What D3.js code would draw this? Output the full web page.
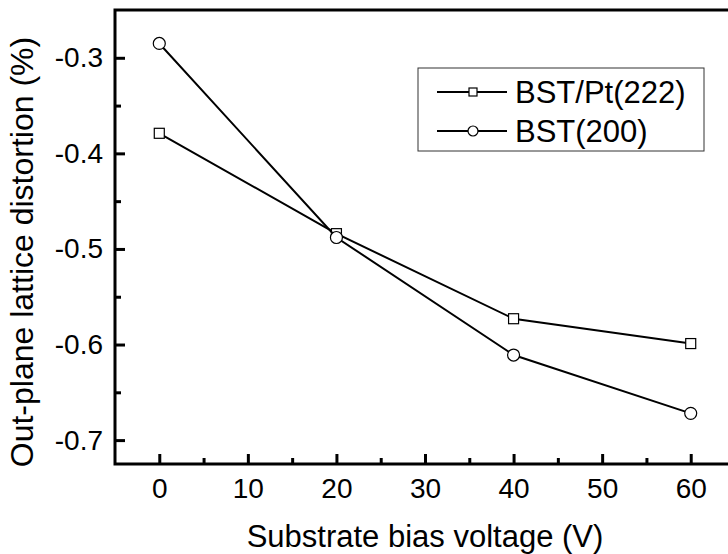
<!DOCTYPE html>
<html lang="en">
<head>
<meta charset="UTF-8">
<title>Out-plane lattice distortion</title>
<script src="https://d3js.org/d3.v7.min.js"></script>
<style>
  body { margin: 0; background: #fff; overflow: hidden; }
  text { font-family: Arial, "Liberation Sans", sans-serif; fill: #000; }
</style>
</head>
<body>
<script>
  // data
  const voltages = [0, 20, 40, 60];
  const bstPt222 = [-0.379, -0.484, -0.573, -0.599];
  const bst200 = [-0.285, -0.488, -0.611, -0.672];
  const seriesNames = ["BST/Pt(222)", "BST(200)"];
  const xTicks = [0, 10, 20, 30, 40, 50, 60];
  const yTicks = [-0.3, -0.4, -0.5, -0.6, -0.7];

  const width = 728, height = 554;
  const margin = { left: 115, top: 10, right: -7, bottom: 90 };

  const svg = d3.select("body").append("svg")
    .attr("width", width).attr("height", height);

  const x = d3.scaleLinear().domain([-5, 65])
    .range([margin.left, width - margin.right]);
  const y = d3.scaleLinear().domain([-0.725, -0.25])
    .range([height - margin.bottom, margin.top]);

  const x0 = margin.left, x1 = width - margin.right;
  const y0 = height - margin.bottom, y1 = margin.top;

  // plain hyphen instead of the unicode minus
  const yFmt = d => d3.format(".1f")(d).replace("\u2212", "-");

  // minor ticks
  svg.append("g")
    .attr("transform", `translate(0,${y0})`)
    .call(d3.axisBottom(x).tickValues(d3.range(5, 65, 10)).tickSizeInner(-6).tickSizeOuter(0).tickFormat(""))
    .call(g => g.select(".domain").remove())
    .call(g => g.selectAll("line").attr("stroke-width", 3));
  svg.append("g")
    .attr("transform", `translate(${x0},0)`)
    .call(d3.axisLeft(y).tickValues([-0.35, -0.45, -0.55, -0.65]).tickSizeInner(-6).tickSizeOuter(0).tickFormat(""))
    .call(g => g.select(".domain").remove())
    .call(g => g.selectAll("line").attr("stroke-width", 3));

  // major ticks + labels
  svg.append("g")
    .attr("transform", `translate(0,${y0})`)
    .call(d3.axisBottom(x).tickValues(xTicks).tickSizeInner(-10).tickSizeOuter(0).tickPadding(14).tickFormat(d3.format("d")))
    .call(g => g.select(".domain").remove())
    .call(g => g.selectAll("line").attr("stroke-width", 3))
    .call(g => g.selectAll("text").attr("font-size", 28).attr("fill", "#000"));
  svg.append("g")
    .attr("transform", `translate(${x0},0)`)
    .call(d3.axisLeft(y).tickValues(yTicks).tickSizeInner(-10).tickSizeOuter(0).tickPadding(12).tickFormat(yFmt))
    .call(g => g.select(".domain").remove())
    .call(g => g.selectAll("line").attr("stroke-width", 3))
    .call(g => g.selectAll("text").attr("font-size", 28).attr("fill", "#000"));

  // frame: left, bottom, top (right side is outside the picture)
  svg.append("path")
    .attr("d", `M${x1},${y1}H${x0}V${y0}H${x1}`)
    .attr("fill", "none").attr("stroke", "#000").attr("stroke-width", 3)
    .attr("stroke-linecap", "square");

  const line = d3.line().x(d => x(d[0])).y(d => y(d[1]));
  const series = [bstPt222, bst200].map(vals => voltages.map((v, i) => [v, vals[i]]));

  series.forEach((pts, k) => {
    svg.append("path").datum(pts)
      .attr("d", line).attr("fill", "none")
      .attr("stroke", "#000").attr("stroke-width", 2);
    if (k === 0) {
      svg.selectAll(null).data(pts).join("rect")
        .attr("x", d => x(d[0]) - 5).attr("y", d => y(d[1]) - 5)
        .attr("width", 10).attr("height", 10)
        .attr("fill", "#fff").attr("stroke", "#000").attr("stroke-width", 1.2);
    } else {
      svg.selectAll(null).data(pts).join("circle")
        .attr("cx", d => x(d[0])).attr("cy", d => y(d[1])).attr("r", 6)
        .attr("fill", "#fff").attr("stroke", "#000").attr("stroke-width", 1.2);
    }
  });

  // legend
  const legend = svg.append("g");
  legend.append("rect")
    .attr("x", 418).attr("y", 68).attr("width", 286).attr("height", 83)
    .attr("fill", "#fff").attr("stroke", "#333").attr("stroke-width", 1);
  seriesNames.forEach((name, k) => {
    const ly = 92 + k * 39;
    legend.append("line")
      .attr("x1", 437).attr("x2", 507).attr("y1", ly).attr("y2", ly)
      .attr("stroke", "#000").attr("stroke-width", 2);
    if (k === 0) {
      legend.append("rect").attr("x", 469).attr("y", ly - 4).attr("width", 8).attr("height", 8)
        .attr("fill", "#fff").attr("stroke", "#000").attr("stroke-width", 1.2);
    } else {
      legend.append("circle").attr("cx", 473).attr("cy", ly).attr("r", 5)
        .attr("fill", "#fff").attr("stroke", "#000").attr("stroke-width", 1.2);
    }
    legend.append("text").attr("x", 515).attr("y", ly).attr("dy", "0.36em")
      .attr("font-size", 31).text(name);
  });

  // axis titles
  svg.append("text")
    .attr("x", (x0 + x1) / 2).attr("y", 547)
    .attr("text-anchor", "middle").attr("font-size", 31)
    .text("Substrate bias voltage (V)");
  svg.append("text")
    .attr("transform", "translate(33,252) rotate(-90)")
    .attr("text-anchor", "middle").attr("font-size", 32)
    .text("Out-plane lattice distortion (%)");
</script>
</body>
</html>
